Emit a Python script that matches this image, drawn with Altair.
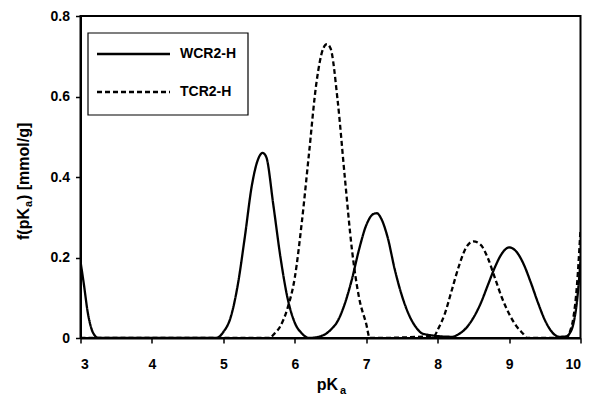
import altair as alt
import pandas as pd

# WCR2-H (solid)
wcr_x = [3.0, 3.05, 3.1, 3.15, 3.2, 3.25, 4.9, 5.0, 5.1, 5.2, 5.3, 5.4, 5.5, 5.55, 5.6, 5.7, 5.8, 5.9, 6.0, 6.1, 6.2,
         6.4, 6.5, 6.6, 6.7, 6.8, 6.9, 7.0, 7.1, 7.15, 7.2, 7.3, 7.4, 7.5, 7.6, 7.7, 7.8, 8.2, 8.3, 8.4, 8.5, 8.6, 8.7,
         8.8, 8.9, 9.0, 9.1, 9.2, 9.3, 9.4, 9.5, 9.6, 9.7, 9.8, 9.85, 9.9, 9.95, 10.0]
wcr_y = [0.19, 0.13, 0.065, 0.025, 0.006, 0.0, 0.0, 0.015, 0.05, 0.13, 0.25, 0.38, 0.45, 0.46, 0.45, 0.33, 0.2, 0.098, 0.038, 0.011, 0.0,
         0.007, 0.02, 0.042, 0.085, 0.146, 0.22, 0.28, 0.308, 0.31, 0.3, 0.25, 0.17, 0.105, 0.057, 0.026, 0.01, 0.003, 0.01, 0.025, 0.05, 0.085, 0.13,
         0.175, 0.21, 0.225, 0.215, 0.185, 0.14, 0.09, 0.045, 0.015, 0.003, 0.004, 0.012, 0.035, 0.09, 0.19]

# TCR2-H (dashed)
tcr_x = [3.0, 5.65, 5.7, 5.8, 5.9, 6.0, 6.1, 6.2, 6.3, 6.4, 6.45, 6.5, 6.6, 6.7, 6.8, 6.9, 7.0, 7.05,
         7.95, 8.0, 8.1, 8.2, 8.3, 8.4, 8.5, 8.6, 8.7, 8.8, 8.9, 9.0, 9.1, 9.2, 9.25, 9.8, 9.85, 9.9, 9.95, 10.0]
tcr_y = [0.0, 0.0, 0.008, 0.03, 0.075, 0.15, 0.29, 0.46, 0.63, 0.72, 0.73, 0.72, 0.59, 0.4, 0.22, 0.1, 0.035, 0.0,
         0.005, 0.02, 0.06, 0.12, 0.18, 0.225, 0.24, 0.232, 0.2, 0.15, 0.1, 0.06, 0.03, 0.01, 0.0, 0.0, 0.015, 0.05, 0.13, 0.27]

series_names = ["WCR2-H", "TCR2-H"]
x_ticks = [3, 4, 5, 6, 7, 8, 9, 10]
y_ticks = [0, 0.2, 0.4, 0.6, 0.8]

df = pd.concat([
    pd.DataFrame({"pKa": wcr_x, "f": wcr_y, "series": series_names[0]}),
    pd.DataFrame({"pKa": tcr_x, "f": tcr_y, "series": series_names[1]}),
])

FONT = "Liberation Sans"
DASH = alt.Scale(domain=series_names, range=[[1, 0], [5, 3]])

xs = alt.Scale(domain=[3, 10], nice=False, zero=False)
ys = alt.Scale(domain=[0, 0.8], nice=False)

lines = alt.Chart(df).mark_line(color="black", strokeWidth=2.3, interpolate="monotone", clip=True).encode(
    x=alt.X("pKa:Q", scale=xs, axis=alt.Axis(values=x_ticks, format="d", title=None)),
    y=alt.Y("f:Q", scale=ys, axis=alt.Axis(values=y_ticks, format="~g", title=None)),
    strokeDash=alt.StrokeDash("series:N", scale=DASH, legend=None),
    detail="series:N",
)

one = pd.DataFrame({"a": [0]})

# axis titles with subscripts
def txt(s, x, y, size, angle=0, align="left"):
    kw = dict(align=align, baseline="alphabetic", font=FONT, fontWeight="bold", fontSize=size,
              color="black", text=s)
    if angle:
        kw["angle"] = angle
    return alt.Chart(one).mark_text(**kw).encode(x=alt.value(x), y=alt.value(y))

x_title = [txt("pK", 257.5, 374, 16, align="right"), txt("a", 259.5, 377.5, 11)]
y_title = [txt("f(pK", -52, 224, 16, angle=270), txt("a", -48.5, 191, 11, angle=270),
           txt(") [mmol/g]", -52, 184, 16, angle=270)]

# manual legend
legend_box = alt.Chart(one).mark_rect(fill="white", stroke="black", strokeWidth=1.2).encode(
    x=alt.value(7.5), x2=alt.value(167.5), y=alt.value(17), y2=alt.value(99))
leg_df = pd.DataFrame({"series": series_names, "ly": [38, 76]})
leg_lines = alt.Chart(leg_df).mark_rule(color="black", strokeWidth=2.3).encode(
    x=alt.value(16.5), x2=alt.value(89.5), y=alt.Y("ly:Q", scale=None),
    strokeDash=alt.StrokeDash("series:N", scale=DASH, legend=None),
)
leg_text = alt.Chart(leg_df).mark_text(align="left", baseline="middle", font=FONT, fontWeight="bold",
                                       fontSize=14, color="black").encode(
    x=alt.value(99.5), y=alt.Y("ly:Q", scale=None), text="series:N")

chart = alt.layer(lines, legend_box, leg_lines, leg_text, *x_title, *y_title).properties(
    width=500, height=322,
    autosize=alt.AutoSizeParams(type="none"),
    padding={"left": 72.5, "top": 8, "right": 8, "bottom": 57},
).configure_view(stroke="black", strokeWidth=2).configure_axis(
    grid=False, domainColor="black", domainWidth=2, tickColor="black", tickWidth=1.5, tickSize=5,
    labelFont=FONT, labelFontWeight="bold", labelFontSize=14, labelColor="black",
).configure_axisX(labelPadding=14).configure_axisY(labelPadding=6)

chart.save("out.html", embed_options={"renderer": "svg", "actions": False})
